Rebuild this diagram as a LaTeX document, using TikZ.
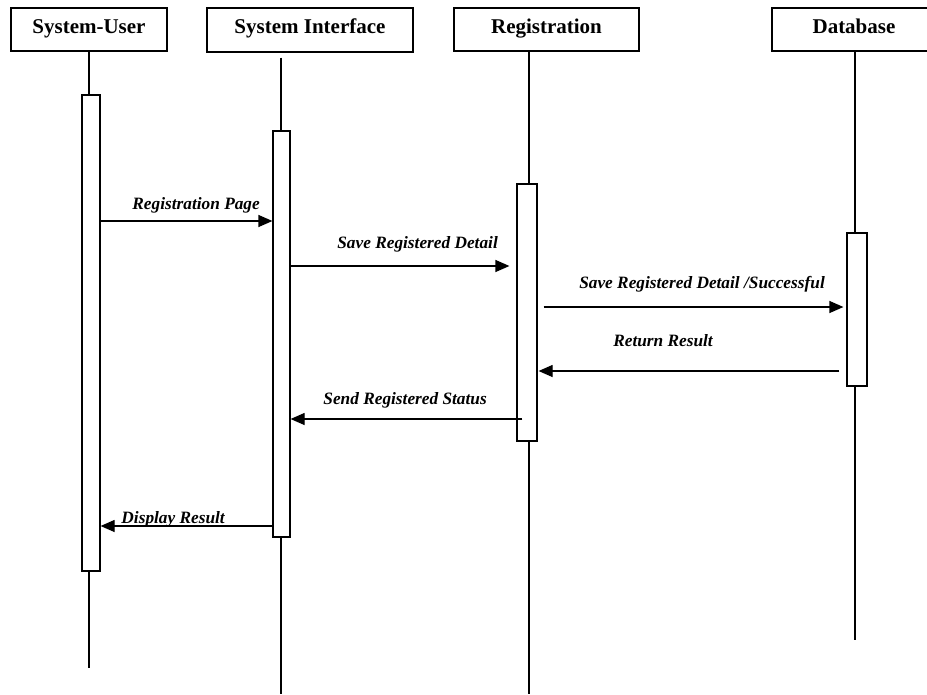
\documentclass[tikz,border=0pt]{standalone}
\usepackage{fontspec}
\setmainfont{Liberation Serif}
\usetikzlibrary{arrows.meta}
\begin{document}
\begin{tikzpicture}[x=1pt,y=-1pt,
  head/.style={draw, line width=1.2pt, rectangle, inner sep=0pt, text height=12pt, text depth=5pt, font=\fontsize{21}{23}\selectfont\bfseries},
  act/.style={draw, line width=1.2pt, fill=white, inner sep=0pt},
  life/.style={line width=1.1pt},
  msg/.style={line width=1.2pt, -{Triangle[length=14pt,width=12pt]}},
  lbl/.style={font=\fontsize{17.3}{19}\selectfont\bfseries\itshape, inner sep=0pt, anchor=base east}]
\clip (0,0) rectangle (927,694);
\fill[white] (0,0) rectangle (927,694);
% headers
\node[head, minimum width=156pt, minimum height=43pt] (uh) at (89,29.5) {System-User};
\node[head, minimum width=206pt, minimum height=44pt] (sih) at (310,30) {System Interface};
\node[head, minimum width=185pt, minimum height=43pt] (rh) at (546.5,29.5) {Registration};
\node[head, minimum width=164pt, minimum height=43pt] (dbh) at (854,29.5) {Database};
% lifeline ends
\coordinate (uend) at (89,668);
\coordinate (siend) at (281,694);
\coordinate (rend) at (529,694);
\coordinate (dbend) at (855,640);
\draw[life] (uh.south -| uend) -- (uend);
\draw[life] ([yshift=-5pt]sih.south -| siend) -- (siend);
\draw[life] (rh.south -| rend) -- (rend);
\draw[life] (dbh.south -| dbend) -- (dbend);
% activations
\node[act, minimum width=18pt, minimum height=476pt] (ua) at (91,333) {};
\node[act, minimum width=17pt, minimum height=406pt] (sia) at (281.5,334) {};
\node[act, minimum width=20pt, minimum height=257pt] (ra) at (527,312.5) {};
\node[act, minimum width=20pt, minimum height=153pt] (dba) at (857,309.5) {};
% messages
\draw[msg] (ua.east |- 0,221) -- (sia.west |- 0,221);
\node[lbl] (l1) at (260,209) {Registration Page};
\draw[msg] (sia.east |- 0,266) -- ([xshift=-7pt]ra.west |- 0,266);
\node[lbl] (l2) at (498,248) {Save Registered Detail};
\draw[msg] ([xshift=6pt]ra.east |- 0,307) -- ([xshift=-3pt]dba.west |- 0,307);
\node[lbl] (l3) at (825,288) {Save Registered Detail /Successful};
\draw[msg] ([xshift=-7pt]dba.west |- 0,371) -- ([xshift=1pt]ra.east |- 0,371);
\node[lbl] (l4) at (713,346) {Return Result};
\draw[msg] ([xshift=6pt]ra.west |- 0,419) -- (sia.east |- 0,419);
\node[lbl] (l5) at (487,404) {Send Registered Status};
\draw[msg] (sia.west |- 0,526) -- (ua.east |- 0,526);
\node[lbl] (l6) at (225,523) {Display Result};
\end{tikzpicture}
\end{document}
